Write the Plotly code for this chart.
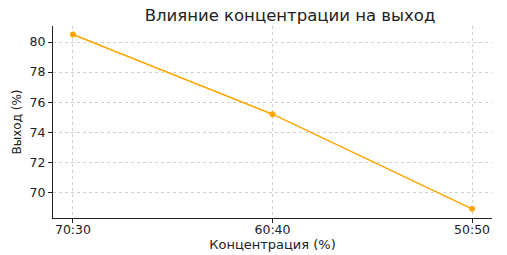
import plotly.graph_objects as go

categories = ["70:30", "60:40", "50:50"]
yield_values = [80.5, 75.2, 68.9]
y_ticks = [70, 72, 74, 76, 78, 80]

fig = go.Figure()
fig.add_trace(go.Scatter(
    x=[0, 1, 2], y=yield_values, mode="lines+markers",
    line=dict(color="#FFA500", width=1.5),
    marker=dict(color="#FFA500", size=6),
))

font_family = "DejaVu Sans"
fig.update_layout(
    width=507, height=255,
    margin=dict(l=53, r=15, t=26, b=37),
    paper_bgcolor="white", plot_bgcolor="white",
    showlegend=False,
    font=dict(family=font_family, size=12, color="#222"),
    title=dict(text="Влияние концентрации на выход", x=0.572, xanchor="center",
               y=1 - 15 / 255, yanchor="middle",
               font=dict(family=font_family, size=16.5, color="#222")),
    xaxis=dict(
        range=[-0.1, 2.1], tickmode="array", tickvals=[0, 1, 2], ticktext=categories,
        showline=True, linecolor="#222", linewidth=1.2,
        ticks="outside", ticklen=4, tickcolor="#222",
        showgrid=True, gridcolor="#d0d0d0", griddash="3px,3px", gridwidth=0.7,
        zeroline=False, automargin=False, ticklabelstandoff=-4,
        tickfont=dict(size=12.5),
        title=dict(text="Концентрация (%)", standoff=3, font=dict(size=13)),
    ),
    yaxis=dict(
        range=[68.29, 81.07], tickmode="array", tickvals=y_ticks,
        showline=True, linecolor="#222", linewidth=1.2,
        ticks="outside", ticklen=4, tickcolor="#222",
        showgrid=True, gridcolor="#d0d0d0", griddash="3px,3px", gridwidth=0.7,
        zeroline=False, automargin=False,
        tickfont=dict(size=12.5),
        title=dict(text="Выход (%)", standoff=5, font=dict(size=12)),
    ),
)

fig.write_html("out.html")
